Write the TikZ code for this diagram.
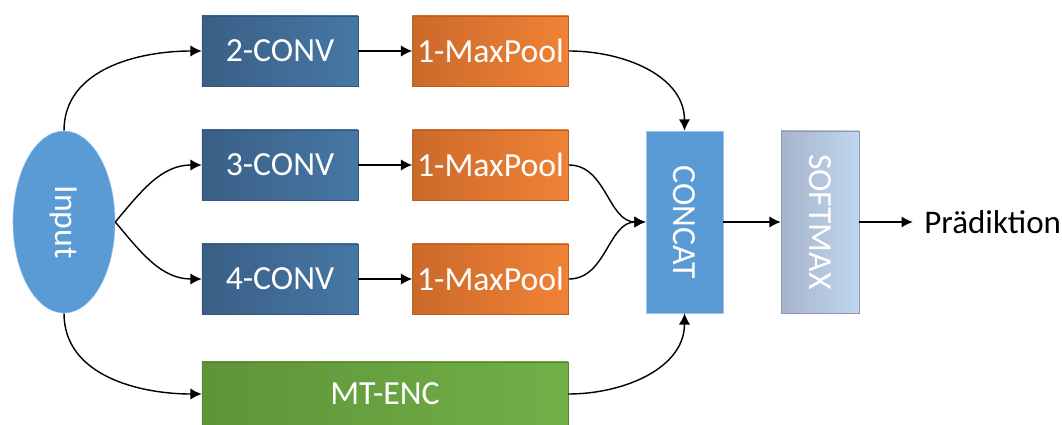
\documentclass[tikz,border=0pt]{standalone}
\usepackage{fontspec}
\usepackage{graphicx}
\setmainfont{Carlito}
\usetikzlibrary{positioning,shapes.geometric,arrows.meta}

\definecolor{convL}{HTML}{3A5F86}
\definecolor{convR}{HTML}{4677A4}
\definecolor{poolL}{HTML}{CC6A2A}
\definecolor{poolR}{HTML}{F08236}
\definecolor{encL}{HTML}{5E9438}
\definecolor{encR}{HTML}{72B048}
\definecolor{catblue}{HTML}{5B9BD5}
\definecolor{softL}{HTML}{A6B4CB}
\definecolor{softR}{HTML}{C0D6EF}

\tikzset{
  layer/.style={minimum width=3.9cm, minimum height=1.75cm, text=white,
    font=\fontsize{24}{28}\selectfont, inner sep=0pt},
  convbox/.style={layer, draw=convL!90!black, left color=convL, right color=convR},
  poolbox/.style={layer, draw=poolL!90!black, left color=poolL, right color=poolR},
  encbox/.style={layer, draw=encL!90!black, left color=encL, right color=encR,
    minimum width=9.15cm, minimum height=1.6cm},
  tallbox/.style={layer, minimum height=4.55cm},
  link/.style={-{Latex[length=8pt,width=8pt]}, line width=1pt}
}

\begin{document}
\begin{tikzpicture}[x=0.025cm, y=-0.025cm]
  \useasboundingbox (0,0) rectangle (1062,425);

  \node[ellipse, draw=catblue!60!white, fill=catblue, minimum width=2.55cm,
        minimum height=4.55cm, inner sep=0pt, text=white,
        font=\fontsize{24}{28}\selectfont] (input) at (64,222) {\rotatebox{-90}{Input}};

  \node[convbox] (conv2) at (280,51) {2-CONV};
  \node[convbox] (conv3) at (280,165) {3-CONV};
  \node[convbox] (conv4) at (280,279) {4-CONV};

  \node[poolbox] (pool2) at (490.5,51) {1-MaxPool};
  \node[poolbox] (pool3) at (490.5,165) {1-MaxPool};
  \node[poolbox] (pool4) at (490.5,279) {1-MaxPool};

  \node[encbox] (enc) at (385,394) {MT-ENC};

  \node[tallbox, minimum width=1.93cm, draw=catblue!60!white, fill=catblue]
    (concat) at (684.5,222) {\rotatebox{-90}{CONCAT}};
  \node[tallbox, minimum width=1.95cm, draw=softL!85!black, left color=softL,
    middle color=softL!85!softR, right color=softR] (softmax) at (820,222) {\rotatebox{-90}{SOFTMAX}};

  \node[anchor=west, font=\fontsize{23.5}{28}\selectfont, inner sep=0pt]
    (pred) at (924,222) {Prädiktion};

  \draw[link] (input.north) to[out=90, in=180] (conv2.west);
  \draw[link] (input.east) to[out=50, in=180] (conv3.west);
  \draw[link] (input.east) to[out=-50, in=180] (conv4.west);
  \draw[link] (input.south) to[out=-90, in=180] (enc.west);

  \draw[link] (conv2) -- (pool2);
  \draw[link] (conv3) -- (pool3);
  \draw[link] (conv4) -- (pool4);

  \draw[link] (pool2.east) to[out=0, in=90] (concat.north);
  \draw[link] (pool3.east) to[out=0, in=180] (concat.west);
  \draw[link] (pool4.east) to[out=0, in=180] (concat.west);
  \draw[link] (enc.east) to[out=0, in=-90] (concat.south);

  \draw[link] (concat) -- (softmax);
  \draw[link, shorten >=8pt] (softmax) -- (pred);
\end{tikzpicture}
\end{document}
